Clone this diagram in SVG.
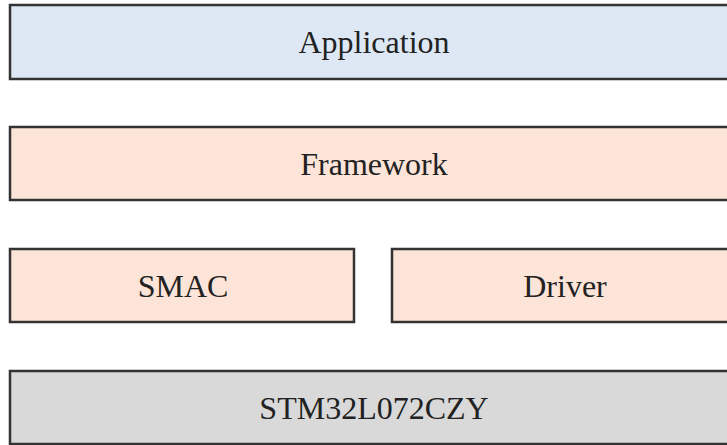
<svg xmlns="http://www.w3.org/2000/svg" width="727" height="445" viewBox="0 0 727 445">
<style>
.box{stroke:#333;stroke-width:2.5}
.blue{fill:#DDE8F4}
.peach{fill:#FDE4D8}
.gray{fill:#D9D9D9}
.lbl{font-family:"Liberation Serif","Times New Roman",serif;font-size:32px;fill:#222;text-anchor:middle}
</style>
<rect width="727" height="445" fill="#fff"/>
<g id="application">
<rect class="box blue" x="10" y="5" width="728" height="74"/>
<text class="lbl" x="374" y="53">Application</text>
</g>
<g id="framework">
<rect class="box peach" x="10" y="127" width="728" height="73"/>
<text class="lbl" x="374" y="175">Framework</text>
</g>
<g id="smac">
<rect class="box peach" x="10" y="249" width="344" height="73"/>
<text class="lbl" x="183" y="297">SMAC</text>
</g>
<g id="driver">
<rect class="box peach" x="392" y="249" width="346" height="73"/>
<text class="lbl" x="565" y="297">Driver</text>
</g>
<g id="stm">
<rect class="box gray" x="10" y="371" width="728" height="73"/>
<text class="lbl" x="374" y="419">STM32L072CZY</text>
</g>
<g id="connectors"></g>
</svg>
